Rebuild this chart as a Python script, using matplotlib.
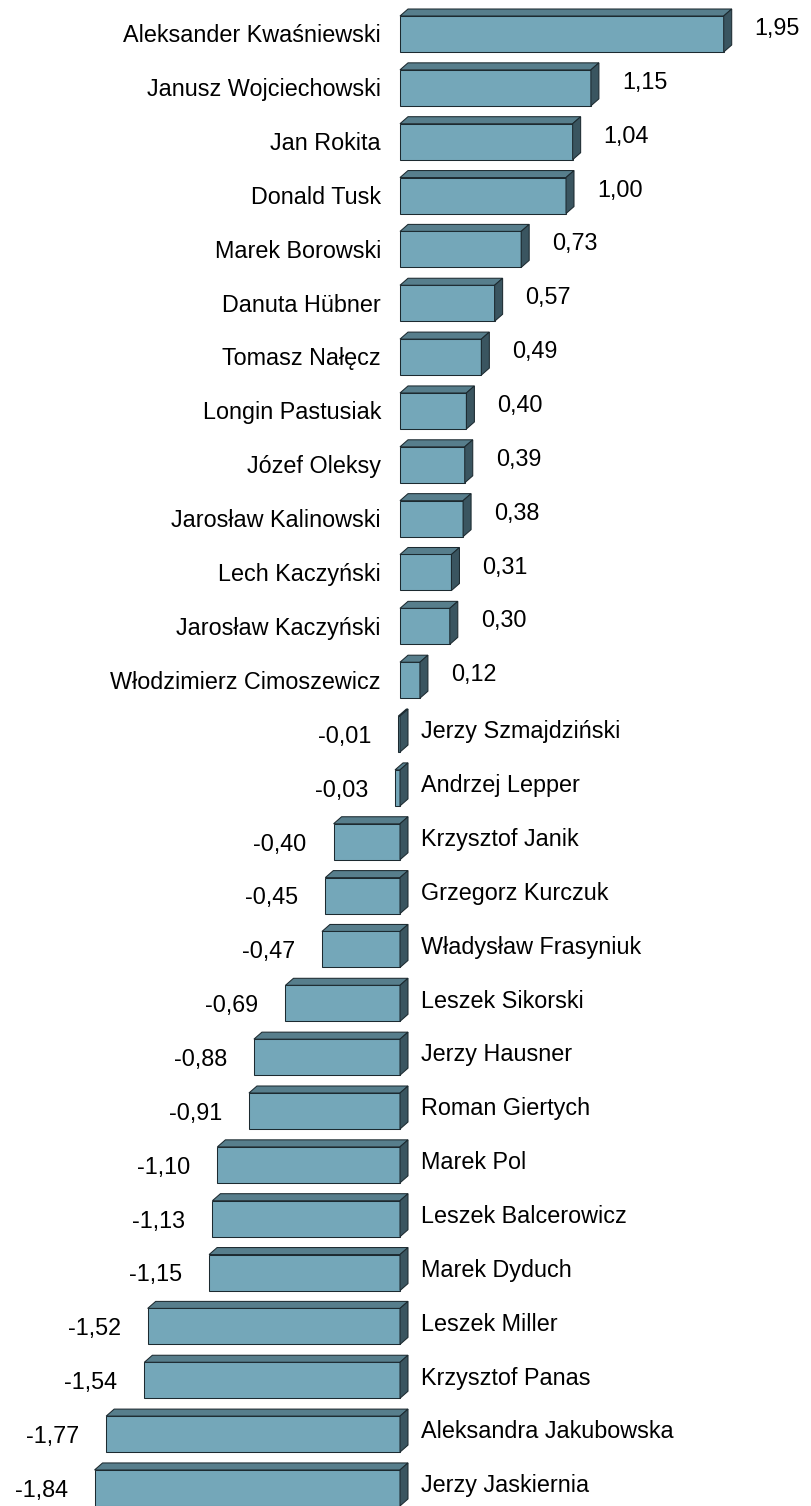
import matplotlib
matplotlib.use("Agg")
import matplotlib.pyplot as plt
from matplotlib.patches import Polygon

plt.rcParams['font.family'] = ['Liberation Sans', 'DejaVu Sans']

# nazwiska i wartości (od góry)
names = [
    "Aleksander Kwaśniewski", "Janusz Wojciechowski", "Jan Rokita", "Donald Tusk",
    "Marek Borowski", "Danuta Hübner", "Tomasz Nałęcz", "Longin Pastusiak",
    "Józef Oleksy", "Jarosław Kalinowski", "Lech Kaczyński", "Jarosław Kaczyński",
    "Włodzimierz Cimoszewicz", "Jerzy Szmajdziński", "Andrzej Lepper",
    "Krzysztof Janik", "Grzegorz Kurczuk", "Władysław Frasyniuk", "Leszek Sikorski",
    "Jerzy Hausner", "Roman Giertych", "Marek Pol", "Leszek Balcerowicz",
    "Marek Dyduch", "Leszek Miller", "Krzysztof Panas", "Aleksandra Jakubowska",
    "Jerzy Jaskiernia",
]
values = [
    1.95, 1.15, 1.04, 1.00, 0.73, 0.57, 0.49, 0.40, 0.39, 0.38, 0.31, 0.30, 0.12,
    -0.01, -0.03, -0.40, -0.45, -0.47, -0.69, -0.88, -0.91, -1.10, -1.13, -1.15,
    -1.52, -1.54, -1.77, -1.84,
]

front = "#74a7b9"
top_c = "#577e8c"
side_c = "#3a5560"
edge = "#1c2a30"

W, H = 811, 1506
fig = plt.figure(figsize=(W / 100, H / 100), dpi=100)
ax = fig.add_axes([0, 0, 1, 1])
ax.set_xlim(-400 / 166, (W - 400) / 166)
ax.set_ylim((H - 34) / 53.85, -34 / 53.85)
ax.axis('off')

# głębokość efektu 3D w jednostkach danych
inv = ax.transData.inverted()
p0 = ax.transData.transform((0, 0))
p1 = inv.transform((p0[0] + 8, p0[1] + 7))
dx, dy = p1[0], p1[1]  # dy < 0 (oś odwrócona)

bar_h = 36 / 53.85
lw = 0.75
rows = list(range(len(values)))
ax.barh(rows, values, height=bar_h, color=front, edgecolor=edge, linewidth=lw, zorder=2)

for i, v in enumerate(values):
    x0, x1 = min(v, 0), max(v, 0)
    yt, yb = i - bar_h / 2, i + bar_h / 2
    top = Polygon([(x0, yt), (x1, yt), (x1 + dx, yt + dy), (x0 + dx, yt + dy)],
                  closed=True, facecolor=top_c, edgecolor=edge, linewidth=lw, zorder=3)
    side = Polygon([(x1, yt), (x1 + dx, yt + dy), (x1 + dx, yb + dy), (x1, yb)],
                   closed=True, facecolor=side_c, edgecolor=edge, linewidth=lw, zorder=3)
    ax.add_patch(top)
    ax.add_patch(side)

    label = f"{v:.2f}".replace('.', ',')
    if v > 0:
        ax.text(-19 / 166, i + 0.155, names[i], ha='right', va='baseline', fontsize=16.8)
        ax.text(v + 31 / 166, i + 0.02, label, ha='left', va='baseline', fontsize=16.8)
    else:
        ax.text(21 / 166, i + 0.08, names[i], ha='left', va='baseline', fontsize=16.8)
        ax.text(v - 27 / 166, i + 0.165, label, ha='right', va='baseline', fontsize=16.8)

fig.savefig("out.png", dpi=100, facecolor="white")
